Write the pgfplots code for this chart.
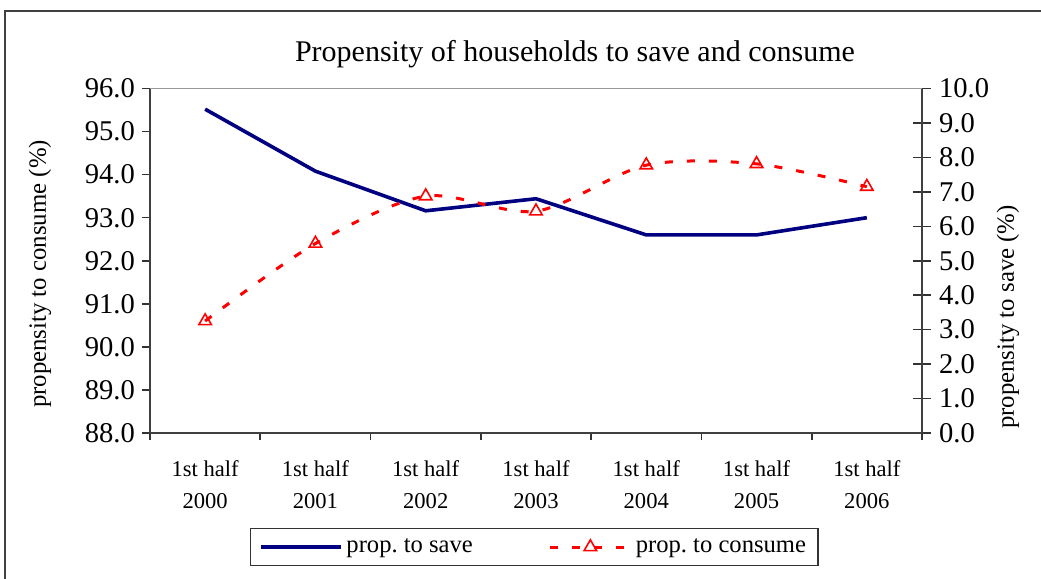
\documentclass[border=0pt]{standalone}
\usepackage{pgfplots}
\pgfplotsset{compat=1.18}
\usepackage{fontspec}
\setmainfont{Liberation Serif}
\definecolor{savecol}{RGB}{0,0,128}
\definecolor{conscol}{RGB}{255,0,0}
\begin{document}
\frenchspacing
\begin{tikzpicture}
\useasboundingbox (-75pt,-73pt) rectangle (445.5pt,216.5pt);
\draw[black!75, line width=0.8pt] (-72.5pt,-90pt) -- (-72.5pt,211pt) -- (470pt,211pt);
\pgfplotsset{
  common/.style={
    at={(0pt,0pt)}, anchor=south west, scale only axis,
    width=386pt, height=172.25pt,
    xmin=-0.5, xmax=6.5,
    axis line style={black!75, line width=0.9pt},
    tick style={black!80, line width=0.8pt},
    /pgf/number format/assume math mode=true,
    /pgf/number format/.cd, fixed, fixed zerofill, precision=1,
  },
}
\begin{axis}[common,
  ymin=0, ymax=10,
  axis x line=none, axis y line*=right,
  ytick={0,1,...,10},
  tick align=center, major tick length=9pt,
  yticklabel style={font=\fontsize{14.3}{16}\selectfont, xshift=0.5pt},
]
\addplot[savecol, line width=1.8pt, line join=round] coordinates {
  (0,9.4) (1,7.6) (2,6.45) (3,6.8) (4,5.75) (5,5.75) (6,6.25)};
\end{axis}
\begin{axis}[common,
  ymin=88, ymax=96,
  axis x line*=bottom, axis y line*=left,
  ytick={88,89,...,96},
  tick align=outside, major tick length=4pt, minor tick length=3.5pt,
  yticklabel style={font=\fontsize{14.3}{16}\selectfont},
  xtick={0,1,...,6},
  minor xtick={-0.5,0.5,...,6.5},
  major x tick style={draw=none},
  xticklabels={{1st half\\2000},{1st half\\2001},{1st half\\2002},{1st half\\2003},{1st half\\2004},{1st half\\2005},{1st half\\2006}},
  xticklabel style={align=center, font=\fontsize{11.3}{16}\selectfont, yshift=-6.5pt, /pgf/number format/assume math mode=true},
  legend columns=2,
  legend style={at={(0.498,-0.331)}, anchor=center, draw=black!80, line width=0.6pt,
    font=\fontsize{12.3}{14}\selectfont, inner xsep=4pt, inner ysep=3pt,
    /tikz/every even column/.append style={column sep=36pt}},
  legend image code/.code={\draw[mark repeat=2,mark phase=2,#1] plot coordinates {(0pt,0pt) (20pt,0pt) (40pt,0pt)};},
]
\draw[black!40, line width=0.8pt] (rel axis cs:0,1) -- (rel axis cs:1,1);
\addlegendimage{savecol, line width=1.8pt}
\addlegendentry{prop. to save}
\addplot[conscol, line width=1.5pt, dash pattern=on 4pt off 7pt, smooth, tension=0.5,
  mark=triangle, mark size=3.6pt, mark options={solid, line width=0.8pt, fill=white}] coordinates {
  (0,90.6) (1,92.4) (2,93.5) (3,93.15) (4,94.22) (5,94.25) (6,93.72)};
\addlegendentry{prop. to consume}
\end{axis}
\node[font=\fontsize{15}{18}\selectfont] at (212.5pt,189.5pt) {Propensity of households to save and consume};
\node[rotate=90, font=\fontsize{12.4}{14}\selectfont] at (-55pt,79.5pt) {propensity to consume (\%)};
\node[rotate=90, font=\fontsize{12.4}{14}\selectfont] at (429pt,58pt) {propensity to save (\%)};
\end{tikzpicture}
\end{document}
